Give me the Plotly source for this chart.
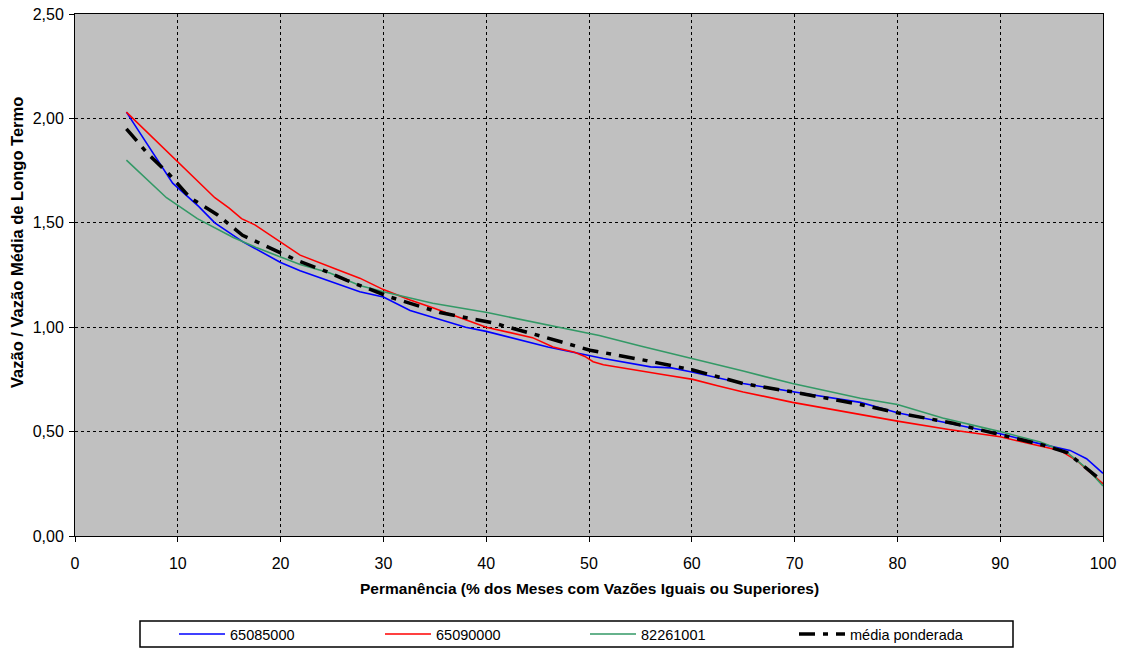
import plotly.graph_objects as go

blue_x = [5, 7, 9.5, 12, 13.6, 16.3, 20, 21.9, 24.8, 27.7, 30, 32.6, 38, 40, 46, 49, 51.4, 56, 58, 60, 62.7, 65, 70, 76.4, 80, 85, 90, 94, 96.8, 98.4, 100]
blue_y = [2.03, 1.88, 1.69, 1.58, 1.50, 1.41, 1.31, 1.27, 1.22, 1.17, 1.145, 1.08, 1.00, 0.98, 0.905, 0.875, 0.85, 0.81, 0.805, 0.785, 0.755, 0.73, 0.69, 0.64, 0.59, 0.54, 0.49, 0.44, 0.41, 0.37, 0.30]

red_x = [5, 7.5, 10.2, 13.6, 15, 16.2, 17.5, 20.2, 21.9, 25.3, 27.7, 30, 32.6, 35, 40, 44.5, 46.5, 48.6, 49.6, 50.4, 51.4, 57.6, 60.1, 62.5, 65, 69.8, 76.4, 80, 85, 90, 92.6, 95.8, 97.5, 100]
red_y = [2.03, 1.91, 1.78, 1.62, 1.57, 1.52, 1.49, 1.40, 1.345, 1.28, 1.235, 1.18, 1.13, 1.09, 1.00, 0.95, 0.905, 0.88, 0.86, 0.835, 0.82, 0.77, 0.75, 0.72, 0.69, 0.64, 0.58, 0.55, 0.51, 0.475, 0.445, 0.41, 0.36, 0.25]

green_x = [5, 8.9, 11.9, 15.4, 17.7, 21.9, 24.8, 27.7, 30, 34.8, 40.1, 45, 49.1, 51, 55, 60.1, 62.5, 65, 69.8, 76.4, 80, 84.4, 90, 93.9, 96.5, 98.5, 100]
green_y = [1.80, 1.62, 1.52, 1.43, 1.38, 1.30, 1.26, 1.20, 1.17, 1.115, 1.07, 1.02, 0.98, 0.96, 0.91, 0.85, 0.82, 0.79, 0.73, 0.66, 0.63, 0.565, 0.50, 0.45, 0.40, 0.32, 0.24]

black_x = [5, 7.1, 9.2, 11.2, 13.8, 16.3, 21.6, 24.8, 26.4, 30.6, 35.5, 40.7, 45.5, 50.1, 55.6, 60.1, 65, 69.8, 76.4, 80, 85.4, 90, 94.2, 96.5, 99, 100]
black_y = [1.95, 1.83, 1.73, 1.62, 1.54, 1.44, 1.32, 1.26, 1.225, 1.145, 1.07, 1.02, 0.955, 0.89, 0.84, 0.795, 0.73, 0.69, 0.63, 0.59, 0.54, 0.485, 0.435, 0.40, 0.30, 0.26]

x_ticks = [0, 10, 20, 30, 40, 50, 60, 70, 80, 90, 100]
y_ticks = [0, 0.5, 1.0, 1.5, 2.0, 2.5]

FONT = "Liberation Sans, Arial, sans-serif"

fig = go.Figure()
fig.add_trace(go.Scatter(x=blue_x, y=blue_y, mode="lines", name="65085000", legend="legend",
                         line=dict(color="#0000FF", width=1.6)))
fig.add_trace(go.Scatter(x=red_x, y=red_y, mode="lines", name="65090000", legend="legend2",
                         line=dict(color="#FF0000", width=1.6)))
fig.add_trace(go.Scatter(x=green_x, y=green_y, mode="lines", name="82261001", legend="legend3",
                         line=dict(color="#339966", width=1.6)))
fig.add_trace(go.Scatter(x=black_x, y=black_y, mode="lines", name="média ponderada", legend="legend4",
                         line=dict(color="#000000", width=3.5, dash="16px,8px,5px,8px")))

# plot area: px 75..1103 horizontally, 14..536 vertically
def px_x(p):
    return (p - 75) / 1028.0

def px_y(p):
    return (536 - p) / 522.0

leg_common = dict(orientation="h", xanchor="left", yanchor="middle",
                  y=px_y(634), borderwidth=0, bgcolor="rgba(0,0,0,0)",
                  font=dict(family=FONT, size=14.5), itemwidth=46)

fig.update_layout(
    width=1123, height=649,
    margin=dict(l=75, r=20, t=14, b=113, autoexpand=False),
    paper_bgcolor="white",
    plot_bgcolor="#C0C0C0",
    separators=",.",
    font=dict(family=FONT, size=16, color="black"),
    showlegend=True,
    legend=dict(x=px_x(174), **leg_common),
    legend2=dict(x=px_x(380), **leg_common),
    legend3=dict(x=px_x(585), **leg_common),
    legend4=dict(x=px_x(794), **leg_common),
    xaxis=dict(
        range=[0, 100], tickvals=x_ticks,
        showgrid=True, gridcolor="black", griddash="dot", gridwidth=1,
        showline=True, linecolor="black", linewidth=1, mirror=True,
        ticks="outside", ticklen=5, tickcolor="black",
        ticklabelstandoff=8,
        zeroline=False,
        tickfont=dict(family=FONT, size=16),
    ),
    yaxis=dict(
        range=[0, 2.5], tickvals=y_ticks, tickformat=".2f",
        showgrid=True, gridcolor="black", griddash="dot", gridwidth=1,
        showline=True, linecolor="black", linewidth=1, mirror=True,
        ticks="outside", ticklen=5, tickcolor="black",
        ticklabelstandoff=2,
        zeroline=False,
        tickfont=dict(family=FONT, size=16),
    ),
)

# legend frame
fig.add_shape(type="rect", xref="paper", yref="paper",
              x0=px_x(140), x1=px_x(1013), y0=px_y(621), y1=px_y(647),
              line=dict(color="black", width=1.5), fillcolor="rgba(0,0,0,0)")

fig.add_annotation(
    text="<b>Permanência (% dos Meses com Vazões Iguais ou Superiores)</b>",
    xref="paper", yref="paper", x=0.5, y=px_y(588),
    xanchor="center", yanchor="middle", showarrow=False,
    font=dict(family=FONT, size=15.5),
)

fig.add_annotation(
    text="<b>Vazão / Vazão Média de Longo Termo</b>",
    xref="paper", yref="paper", x=px_x(17), y=px_y(243),
    xanchor="center", yanchor="middle",
    textangle=-90, showarrow=False,
    font=dict(family=FONT, size=16.5),
)

fig.write_html("out.html")
